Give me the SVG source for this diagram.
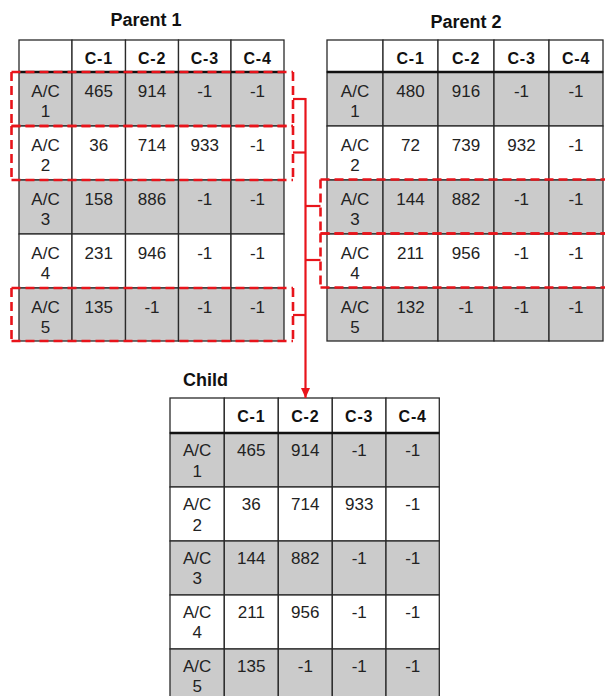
<svg xmlns="http://www.w3.org/2000/svg" width="605" height="696" viewBox="0 0 605 696">
<style>
.bg{fill:#ffffff}
.c{stroke:#2a2a2a;stroke-width:1.3;fill:#ffffff}
.g{stroke:#2a2a2a;stroke-width:1.3;fill:#cbcbcb}
.hl{stroke:#111;stroke-width:2.6}
.t{font-family:"Liberation Sans",Arial,sans-serif;font-size:17px;fill:#222;text-anchor:middle}
.h{font-family:"Liberation Sans",Arial,sans-serif;font-size:16px;font-weight:bold;fill:#111;text-anchor:middle;letter-spacing:0.8px}
.ti{font-family:"Liberation Sans",Arial,sans-serif;font-size:18px;font-weight:bold;fill:#111}
.sel{fill:none;stroke:#e8141b;stroke-width:2.6;stroke-dasharray:9 5}
.con{fill:none;stroke:#e8141b;stroke-width:2.2}
</style>
<defs>
<marker id="arr" markerUnits="userSpaceOnUse" markerWidth="10" markerHeight="10" refX="10" refY="5" orient="auto" viewBox="0 0 10 10">
<path d="M0,0.5 L10,5 L0,9.5 Z" fill="#e8141b"/>
</marker>
</defs>
<rect class="bg" x="0" y="0" width="605" height="696"/>

<g id="parent1">
<text class="ti" x="146" y="25.7" text-anchor="middle">Parent 1</text>
<g id="p1-header">
<rect class="c" x="19" y="40" width="53" height="32"/><rect class="c" x="72" y="40" width="53.5" height="32"/><rect class="c" x="125.5" y="40" width="53" height="32"/><rect class="c" x="178.5" y="40" width="52.5" height="32"/><rect class="c" x="231" y="40" width="53" height="32"/>
<text class="h" x="98.75" y="64">C-1</text><text class="h" x="152" y="64">C-2</text><text class="h" x="204.75" y="64">C-3</text><text class="h" x="257.5" y="64">C-4</text>
</g>
<g id="p1-r1">
<rect class="g" x="19" y="72" width="53" height="54"/><rect class="g" x="72" y="72" width="53.5" height="54"/><rect class="g" x="125.5" y="72" width="53" height="54"/><rect class="g" x="178.5" y="72" width="52.5" height="54"/><rect class="g" x="231" y="72" width="53" height="54"/>
<text class="t" x="45.5" y="96.5">A/C<tspan x="45.5" y="116.5">1</tspan></text><text class="t" x="98.75" y="96.5">465</text><text class="t" x="152" y="96.5">914</text><text class="t" x="204.75" y="96.5">-1</text><text class="t" x="257.5" y="96.5">-1</text>
</g>
<g id="p1-r2">
<rect class="c" x="19" y="126" width="53" height="54"/><rect class="c" x="72" y="126" width="53.5" height="54"/><rect class="c" x="125.5" y="126" width="53" height="54"/><rect class="c" x="178.5" y="126" width="52.5" height="54"/><rect class="c" x="231" y="126" width="53" height="54"/>
<text class="t" x="45.5" y="150.5">A/C<tspan x="45.5" y="170.5">2</tspan></text><text class="t" x="98.75" y="150.5">36</text><text class="t" x="152" y="150.5">714</text><text class="t" x="204.75" y="150.5">933</text><text class="t" x="257.5" y="150.5">-1</text>
</g>
<g id="p1-r3">
<rect class="g" x="19" y="180" width="53" height="54"/><rect class="g" x="72" y="180" width="53.5" height="54"/><rect class="g" x="125.5" y="180" width="53" height="54"/><rect class="g" x="178.5" y="180" width="52.5" height="54"/><rect class="g" x="231" y="180" width="53" height="54"/>
<text class="t" x="45.5" y="204.5">A/C<tspan x="45.5" y="224.5">3</tspan></text><text class="t" x="98.75" y="204.5">158</text><text class="t" x="152" y="204.5">886</text><text class="t" x="204.75" y="204.5">-1</text><text class="t" x="257.5" y="204.5">-1</text>
</g>
<g id="p1-r4">
<rect class="c" x="19" y="234" width="53" height="54"/><rect class="c" x="72" y="234" width="53.5" height="54"/><rect class="c" x="125.5" y="234" width="53" height="54"/><rect class="c" x="178.5" y="234" width="52.5" height="54"/><rect class="c" x="231" y="234" width="53" height="54"/>
<text class="t" x="45.5" y="258.5">A/C<tspan x="45.5" y="278.5">4</tspan></text><text class="t" x="98.75" y="258.5">231</text><text class="t" x="152" y="258.5">946</text><text class="t" x="204.75" y="258.5">-1</text><text class="t" x="257.5" y="258.5">-1</text>
</g>
<g id="p1-r5">
<rect class="g" x="19" y="288" width="53" height="53"/><rect class="g" x="72" y="288" width="53.5" height="53"/><rect class="g" x="125.5" y="288" width="53" height="53"/><rect class="g" x="178.5" y="288" width="52.5" height="53"/><rect class="g" x="231" y="288" width="53" height="53"/>
<text class="t" x="45.5" y="312.5">A/C<tspan x="45.5" y="332.5">5</tspan></text><text class="t" x="98.75" y="312.5">135</text><text class="t" x="152" y="312.5">-1</text><text class="t" x="204.75" y="312.5">-1</text><text class="t" x="257.5" y="312.5">-1</text>
</g>
<line class="hl" x1="19" y1="72" x2="284" y2="72"/>
</g>

<g id="parent2">
<text class="ti" x="466" y="27.5" text-anchor="middle">Parent 2</text>
<g id="p2-header">
<rect class="c" x="327" y="40" width="56" height="32"/><rect class="c" x="383" y="40" width="55" height="32"/><rect class="c" x="438" y="40" width="56" height="32"/><rect class="c" x="494" y="40" width="55" height="32"/><rect class="c" x="549" y="40" width="54" height="32"/>
<text class="h" x="410.5" y="64">C-1</text><text class="h" x="466" y="64">C-2</text><text class="h" x="521.5" y="64">C-3</text><text class="h" x="576" y="64">C-4</text>
</g>
<g id="p2-r1">
<rect class="g" x="327" y="72" width="56" height="54"/><rect class="g" x="383" y="72" width="55" height="54"/><rect class="g" x="438" y="72" width="56" height="54"/><rect class="g" x="494" y="72" width="55" height="54"/><rect class="g" x="549" y="72" width="54" height="54"/>
<text class="t" x="355" y="96.5">A/C<tspan x="355" y="116.5">1</tspan></text><text class="t" x="410.5" y="96.5">480</text><text class="t" x="466" y="96.5">916</text><text class="t" x="521.5" y="96.5">-1</text><text class="t" x="576" y="96.5">-1</text>
</g>
<g id="p2-r2">
<rect class="c" x="327" y="126" width="56" height="54"/><rect class="c" x="383" y="126" width="55" height="54"/><rect class="c" x="438" y="126" width="56" height="54"/><rect class="c" x="494" y="126" width="55" height="54"/><rect class="c" x="549" y="126" width="54" height="54"/>
<text class="t" x="355" y="150.5">A/C<tspan x="355" y="170.5">2</tspan></text><text class="t" x="410.5" y="150.5">72</text><text class="t" x="466" y="150.5">739</text><text class="t" x="521.5" y="150.5">932</text><text class="t" x="576" y="150.5">-1</text>
</g>
<g id="p2-r3">
<rect class="g" x="327" y="180" width="56" height="54"/><rect class="g" x="383" y="180" width="55" height="54"/><rect class="g" x="438" y="180" width="56" height="54"/><rect class="g" x="494" y="180" width="55" height="54"/><rect class="g" x="549" y="180" width="54" height="54"/>
<text class="t" x="355" y="204.5">A/C<tspan x="355" y="224.5">3</tspan></text><text class="t" x="410.5" y="204.5">144</text><text class="t" x="466" y="204.5">882</text><text class="t" x="521.5" y="204.5">-1</text><text class="t" x="576" y="204.5">-1</text>
</g>
<g id="p2-r4">
<rect class="c" x="327" y="234" width="56" height="54"/><rect class="c" x="383" y="234" width="55" height="54"/><rect class="c" x="438" y="234" width="56" height="54"/><rect class="c" x="494" y="234" width="55" height="54"/><rect class="c" x="549" y="234" width="54" height="54"/>
<text class="t" x="355" y="258.5">A/C<tspan x="355" y="278.5">4</tspan></text><text class="t" x="410.5" y="258.5">211</text><text class="t" x="466" y="258.5">956</text><text class="t" x="521.5" y="258.5">-1</text><text class="t" x="576" y="258.5">-1</text>
</g>
<g id="p2-r5">
<rect class="g" x="327" y="288" width="56" height="53"/><rect class="g" x="383" y="288" width="55" height="53"/><rect class="g" x="438" y="288" width="56" height="53"/><rect class="g" x="494" y="288" width="55" height="53"/><rect class="g" x="549" y="288" width="54" height="53"/>
<text class="t" x="355" y="312.5">A/C<tspan x="355" y="332.5">5</tspan></text><text class="t" x="410.5" y="312.5">132</text><text class="t" x="466" y="312.5">-1</text><text class="t" x="521.5" y="312.5">-1</text><text class="t" x="576" y="312.5">-1</text>
</g>
<line class="hl" x1="327" y1="72" x2="603" y2="72"/>
</g>

<g id="child">
<text class="ti" x="183" y="385.7">Child</text>
<g id="ch-header">
<rect class="c" x="170" y="398" width="54.3" height="35"/><rect class="c" x="224.3" y="398" width="54" height="35"/><rect class="c" x="278.3" y="398" width="54" height="35"/><rect class="c" x="332.3" y="398" width="53.7" height="35"/><rect class="c" x="386" y="398" width="53.3" height="35"/>
<text class="h" x="251.3" y="422">C-1</text><text class="h" x="305.3" y="422">C-2</text><text class="h" x="359.2" y="422">C-3</text><text class="h" x="412.7" y="422">C-4</text>
</g>
<g id="ch-r1">
<rect class="g" x="170" y="433" width="54.3" height="54"/><rect class="g" x="224.3" y="433" width="54" height="54"/><rect class="g" x="278.3" y="433" width="54" height="54"/><rect class="g" x="332.3" y="433" width="53.7" height="54"/><rect class="g" x="386" y="433" width="53.3" height="54"/>
<text class="t" x="197.2" y="455.7">A/C<tspan x="197.2" y="476.5">1</tspan></text><text class="t" x="251.3" y="455.7">465</text><text class="t" x="305.3" y="455.7">914</text><text class="t" x="359.2" y="455.7">-1</text><text class="t" x="412.7" y="455.7">-1</text>
</g>
<g id="ch-r2">
<rect class="c" x="170" y="487" width="54.3" height="54"/><rect class="c" x="224.3" y="487" width="54" height="54"/><rect class="c" x="278.3" y="487" width="54" height="54"/><rect class="c" x="332.3" y="487" width="53.7" height="54"/><rect class="c" x="386" y="487" width="53.3" height="54"/>
<text class="t" x="197.2" y="509.7">A/C<tspan x="197.2" y="530.5">2</tspan></text><text class="t" x="251.3" y="509.7">36</text><text class="t" x="305.3" y="509.7">714</text><text class="t" x="359.2" y="509.7">933</text><text class="t" x="412.7" y="509.7">-1</text>
</g>
<g id="ch-r3">
<rect class="g" x="170" y="541" width="54.3" height="54"/><rect class="g" x="224.3" y="541" width="54" height="54"/><rect class="g" x="278.3" y="541" width="54" height="54"/><rect class="g" x="332.3" y="541" width="53.7" height="54"/><rect class="g" x="386" y="541" width="53.3" height="54"/>
<text class="t" x="197.2" y="563.5">A/C<tspan x="197.2" y="584.2">3</tspan></text><text class="t" x="251.3" y="563.5">144</text><text class="t" x="305.3" y="563.5">882</text><text class="t" x="359.2" y="563.5">-1</text><text class="t" x="412.7" y="563.5">-1</text>
</g>
<g id="ch-r4">
<rect class="c" x="170" y="595" width="54.3" height="54"/><rect class="c" x="224.3" y="595" width="54" height="54"/><rect class="c" x="278.3" y="595" width="54" height="54"/><rect class="c" x="332.3" y="595" width="53.7" height="54"/><rect class="c" x="386" y="595" width="53.3" height="54"/>
<text class="t" x="197.2" y="617.5">A/C<tspan x="197.2" y="638.2">4</tspan></text><text class="t" x="251.3" y="617.5">211</text><text class="t" x="305.3" y="617.5">956</text><text class="t" x="359.2" y="617.5">-1</text><text class="t" x="412.7" y="617.5">-1</text>
</g>
<g id="ch-r5">
<rect class="g" x="170" y="649" width="54.3" height="54"/><rect class="g" x="224.3" y="649" width="54" height="54"/><rect class="g" x="278.3" y="649" width="54" height="54"/><rect class="g" x="332.3" y="649" width="53.7" height="54"/><rect class="g" x="386" y="649" width="53.3" height="54"/>
<text class="t" x="197.2" y="671.5">A/C<tspan x="197.2" y="692.2">5</tspan></text><text class="t" x="251.3" y="671.5">135</text><text class="t" x="305.3" y="671.5">-1</text><text class="t" x="359.2" y="671.5">-1</text><text class="t" x="412.7" y="671.5">-1</text>
</g>
<line class="hl" x1="170" y1="433" x2="439.3" y2="433"/>
</g>

<g id="selections">
<path class="sel" d="M11.5 72 H293 M11.5 126 H293 M11.5 72 V126 M293 72 V126"/>
<path class="sel" d="M11.5 126 H293 M11.5 180 H293 M11.5 126 V180 M293 126 V180"/>
<path class="sel" d="M11.5 288 H293 M11.5 341 H293 M11.5 288 V341 M293 288 V341"/>
<path class="sel" d="M320.5 179.5 H615 M320.5 233.5 H615 M320.5 179.5 V233.5"/>
<path class="sel" d="M320.5 233.5 H615 M320.5 287.5 H615 M320.5 233.5 V287.5"/>
</g>

<g id="connectors">
<path class="con" d="M305.5 98 V398" marker-end="url(#arr)"/>
<path class="con" d="M293 99 H305.5"/>
<path class="con" d="M293 152.5 H305.5"/>
<path class="con" d="M305.5 206 H320.5"/>
<path class="con" d="M305.5 260 H320.5"/>
<path class="con" d="M293 315 H305.5"/>
</g>
</svg>
